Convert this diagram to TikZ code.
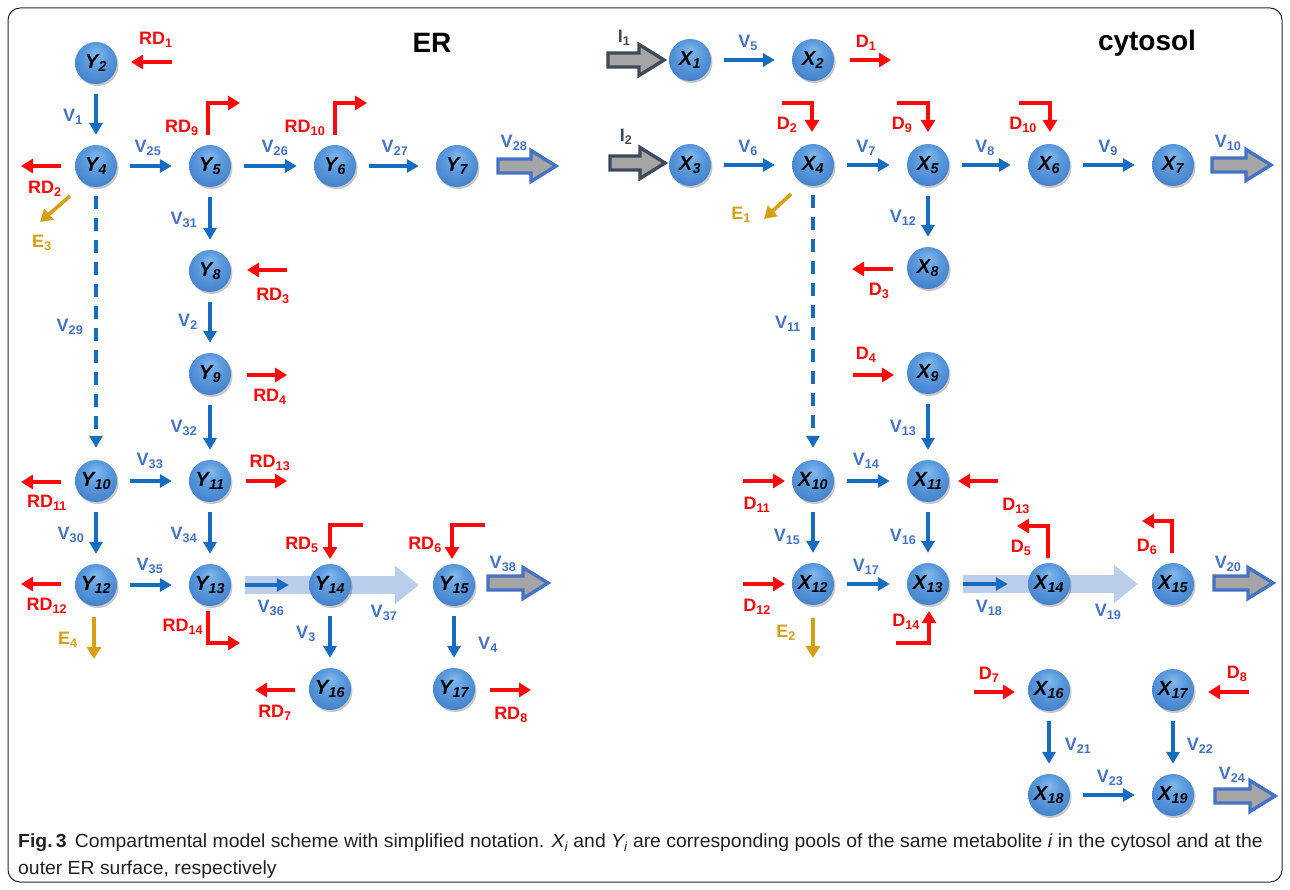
\documentclass[tikz,border=0pt]{standalone}
\usepackage{fontspec}
\setmainfont{Liberation Sans}
\usetikzlibrary{arrows.meta,shadows,calc}
\definecolor{arrblue}{RGB}{22,108,190}
\definecolor{lblblue}{RGB}{68,114,196}
\definecolor{myred}{RGB}{250,10,10}
\definecolor{myyellow}{RGB}{214,160,20}
\definecolor{bandblue}{RGB}{186,206,236}
\definecolor{fatgray}{RGB}{165,165,165}
\definecolor{fatblue}{RGB}{68,114,196}
\definecolor{fatdark}{RGB}{62,74,90}
\definecolor{poolL}{RGB}{130,185,236}
\definecolor{poolM}{RGB}{92,155,222}
\definecolor{poolD}{RGB}{58,120,196}
\definecolor{captxt}{RGB}{35,31,32}
\pgfdeclareradialshading{poolshade}{\pgfpoint{0bp}{12bp}}{color(0bp)=(poolL); color(14bp)=(poolM); color(36bp)=(poolD); color(50bp)=(poolD)}
\pgfdeclarelayer{bg}
\pgfsetlayers{bg,main}
\newcommand{\fatarr}[4]{% x1, x2, y, style
  \draw[#4] (#1,#3-7) -- (#2-25,#3-7) -- (#2-25,#3-15.5) -- (#2,#3) -- (#2-25,#3+15.5) -- (#2-25,#3+7) -- (#1,#3+7) -- cycle;}
\tikzset{
  pool/.style={circle, minimum size=42pt, inner sep=0pt, shading=poolshade,
    drop shadow={shadow xshift=1.5pt, shadow yshift=-2pt, opacity=0.22, fill=black},
    font=\bfseries\itshape\fontsize{20.5}{20.5}\selectfont},
  lbl/.style={font=\bfseries\fontsize{18}{18}\selectfont, inner sep=0pt},
  vl/.style={lbl, text=lblblue},
  rl/.style={lbl, text=myred},
  yl/.style={lbl, text=myyellow},
  gl/.style={lbl, text=fatdark},
  va/.style={draw=arrblue, line width=3.4pt, -{Triangle[length=12pt,width=13pt]}},
  vn/.style={va, shorten <=10pt, shorten >=10pt},
  hn/.style={va, shorten <=13pt, shorten >=17pt},
  dsh/.style={va, dash pattern=on 13pt off 9pt, shorten <=9pt, shorten >=12pt},
  ra/.style={draw=myred, line width=3.6pt, line join=miter, -{Triangle[length=12pt,width=14pt]}},
  ya/.style={draw=myyellow, line width=3.6pt, -{Triangle[length=12pt,width=14pt]}},
  fatb/.style={draw=fatblue, fill=fatgray, line width=3.4pt, line join=miter},
  fatd/.style={draw=fatdark, fill=fatgray, line width=3.4pt, line join=miter},
  band/.style={draw=bandblue, line width=18pt, -{Triangle[length=24pt,width=37pt]}},
}
\begin{document}
\begin{tikzpicture}[x=1pt,y=-1pt]
\useasboundingbox (0,0) rectangle (1290,890);
\draw[line width=1pt, rounded corners=12pt, draw=black!85] (8,8) rectangle (1282,882);

% titles
\node[font=\bfseries\fontsize{28}{28}\selectfont] (ER) at (432,43) {ER};
\node[font=\bfseries\fontsize{28}{28}\selectfont] (cyt) at (1147,43) {cytosol};

% ER pools
\node[pool] (Y2) at (96,63) {Y\textsubscript{2}};
\node[pool] (Y4) at (96,166) {Y\textsubscript{4}};
\node[pool] (Y5) at (210,166) {Y\textsubscript{5}};
\node[pool] (Y6) at (335,166) {Y\textsubscript{6}};
\node[pool] (Y7) at (457,166) {Y\textsubscript{7}};
\node[pool] (Y8) at (210,271) {Y\textsubscript{8}};
\node[pool] (Y9) at (210,374) {Y\textsubscript{9}};
\node[pool] (Y10) at (96,481) {Y\textsubscript{10}};
\node[pool] (Y11) at (210,481) {Y\textsubscript{11}};
\node[pool] (Y12) at (96,585) {Y\textsubscript{12}};
\node[pool] (Y13) at (210,585) {Y\textsubscript{13}};
\node[pool] (Y14) at (330,585) {Y\textsubscript{14}};
\node[pool] (Y15) at (454,585) {Y\textsubscript{15}};
\node[pool] (Y16) at (330,689) {Y\textsubscript{16}};
\node[pool] (Y17) at (454,689) {Y\textsubscript{17}};

% cytosol pools
\node[pool] (X1) at (690,60) {X\textsubscript{1}};
\node[pool] (X2) at (813,60) {X\textsubscript{2}};
\node[pool] (X3) at (690,165) {X\textsubscript{3}};
\node[pool] (X4) at (813,165) {X\textsubscript{4}};
\node[pool] (X5) at (928,165) {X\textsubscript{5}};
\node[pool] (X6) at (1049,165) {X\textsubscript{6}};
\node[pool] (X7) at (1173,165) {X\textsubscript{7}};
\node[pool] (X8) at (928,268) {X\textsubscript{8}};
\node[pool] (X9) at (928,373) {X\textsubscript{9}};
\node[pool] (X10) at (813,481) {X\textsubscript{10}};
\node[pool] (X11) at (928,481) {X\textsubscript{11}};
\node[pool] (X12) at (813,584) {X\textsubscript{12}};
\node[pool] (X13) at (928,584) {X\textsubscript{13}};
\node[pool] (X14) at (1049,584) {X\textsubscript{14}};
\node[pool] (X15) at (1173,584) {X\textsubscript{15}};
\node[pool] (X16) at (1049,690) {X\textsubscript{16}};
\node[pool] (X17) at (1173,690) {X\textsubscript{17}};
\node[pool] (X18) at (1049,795) {X\textsubscript{18}};
\node[pool] (X19) at (1173,795) {X\textsubscript{19}};

% wide bands (background)
\begin{pgfonlayer}{bg}
\draw[band, shorten <=14pt, shorten >=14pt] (Y13) -- (Y15);
\draw[band, shorten <=14pt, shorten >=14pt] (X13) -- (X15);
\end{pgfonlayer}

% ===== ER connectors =====
\draw[vn] (Y2) -- (Y4);
\draw[hn] (Y4) -- (Y5);
\draw[hn] (Y5) -- (Y6);
\draw[hn] (Y6) -- (Y7);
\draw[vn] (Y5) -- (Y8);
\draw[vn] (Y8) -- (Y9);
\draw[vn] (Y9) -- (Y11);
\draw[dsh] (Y4) -- (Y10);
\draw[hn] (Y10) -- (Y11);
\draw[vn] (Y10) -- (Y12);
\draw[vn] (Y11) -- (Y13);
\draw[hn] (Y12) -- (Y13);
\draw[va, shorten <=14pt, shorten >=20pt] (Y13) -- (Y14);
\draw[vn] (Y14) -- (Y16);
\draw[vn] (Y15) -- (Y17);

\node[vl] (lV1) at (73,117) {V\textsubscript{1}};
\node[vl] (lV25) at (148,148) {V\textsubscript{25}};
\node[vl] (lV26) at (275,148) {V\textsubscript{26}};
\node[vl] (lV27) at (395,148) {V\textsubscript{27}};
\node[vl] (lV28) at (514,143) {V\textsubscript{28}};
\node[vl] (lV31) at (184,220) {V\textsubscript{31}};
\node[vl] (lV2) at (188,322) {V\textsubscript{2}};
\node[vl] (lV32) at (184,428) {V\textsubscript{32}};
\node[vl] (lV29) at (70,327) {V\textsubscript{29}};
\node[vl] (lV33) at (150,461) {V\textsubscript{33}};
\node[vl] (lV30) at (71,535) {V\textsubscript{30}};
\node[vl] (lV34) at (184,535) {V\textsubscript{34}};
\node[vl] (lV35) at (150,566) {V\textsubscript{35}};
\node[vl] (lV36) at (271,608) {V\textsubscript{36}};
\node[vl] (lV37) at (384,613) {V\textsubscript{37}};
\node[vl] (lV38) at (503,564) {V\textsubscript{38}};
\node[vl] (lV3) at (306,634) {V\textsubscript{3}};
\node[vl] (lV4) at (488,645) {V\textsubscript{4}};

% ER free arrows
\coordinate (a1) at (172,62); \coordinate (b1) at (131,62);
\draw[ra] (a1) -- (b1);
\node[rl] (lRD1) at (156,40) {RD\textsubscript{1}};
\coordinate (a2) at (61,166); \coordinate (b2) at (21,166);
\draw[ra] (a2) -- (b2);
\node[rl] (lRD2) at (45,189) {RD\textsubscript{2}};
\coordinate (a3) at (70,196); \coordinate (b3) at (40,222);
\draw[ya] (a3) -- (b3);
\node[yl] (lE3) at (42,243) {E\textsubscript{3}};
\coordinate (a9) at (208,135); \coordinate (b9) at (240,103);
\draw[ra] (a9) |- (b9);
\node[rl] (lRD9) at (182,128) {RD\textsubscript{9}};
\coordinate (a10) at (335,135); \coordinate (b10) at (367,103);
\draw[ra] (a10) |- (b10);
\node[rl] (lRD10) at (305,128) {RD\textsubscript{10}};
\fatarr{498}{556}{166}{fatb}
\coordinate (a3r) at (287,270); \coordinate (b3r) at (247,270);
\draw[ra] (a3r) -- (b3r);
\node[rl] (lRD3) at (273,296) {RD\textsubscript{3}};
\coordinate (a4) at (247,375); \coordinate (b4) at (287,375);
\draw[ra] (a4) -- (b4);
\node[rl] (lRD4) at (270,397) {RD\textsubscript{4}};
\coordinate (a11) at (61,482); \coordinate (b11) at (21,482);
\draw[ra] (a11) -- (b11);
\node[rl] (lRD11) at (47,503) {RD\textsubscript{11}};
\coordinate (a13) at (246,481); \coordinate (b13) at (287,481);
\draw[ra] (a13) -- (b13);
\node[rl] (lRD13) at (270,463) {RD\textsubscript{13}};
\coordinate (a12) at (61,584); \coordinate (b12) at (21,584);
\draw[ra] (a12) -- (b12);
\node[rl] (lRD12) at (47,606) {RD\textsubscript{12}};
\coordinate (ae4) at (94,617); \coordinate (be4) at (94,659);
\draw[ya] (ae4) -- (be4);
\node[yl] (lE4) at (68,640) {E\textsubscript{4}};
\coordinate (a14) at (208,611); \coordinate (b14) at (240,643);
\draw[ra] (a14) |- (b14);
\node[rl] (lRD14) at (183,627) {RD\textsubscript{14}};
\coordinate (a5) at (363,525); \coordinate (b5) at (330,559);
\draw[ra] (a5) -| (b5);
\node[rl] (lRD5) at (302,545) {RD\textsubscript{5}};
\coordinate (a6) at (485,525); \coordinate (b6) at (452,559);
\draw[ra] (a6) -| (b6);
\node[rl] (lRD6) at (425,545) {RD\textsubscript{6}};
\fatarr{488}{548}{583}{fatb}
\coordinate (a7) at (295,690); \coordinate (b7) at (255,690);
\draw[ra] (a7) -- (b7);
\node[rl] (lRD7) at (275,713) {RD\textsubscript{7}};
\coordinate (a8) at (490,690); \coordinate (b8) at (531,690);
\draw[ra] (a8) -- (b8);
\node[rl] (lRD8) at (511,715) {RD\textsubscript{8}};

% ===== cytosol connectors =====
\draw[hn] (X1) -- (X2);
\draw[hn] (X3) -- (X4);
\draw[hn] (X4) -- (X5);
\draw[hn] (X5) -- (X6);
\draw[hn] (X6) -- (X7);
\draw[vn] (X5) -- (X8);
\draw[dsh] (X4) -- (X10);
\draw[vn] (X9) -- (X11);
\draw[hn] (X10) -- (X11);
\draw[vn] (X10) -- (X12);
\draw[vn] (X11) -- (X13);
\draw[hn] (X12) -- (X13);
\draw[va, shorten <=14pt, shorten >=20pt] (X13) -- (X14);
\draw[vn] (X16) -- (X18);
\draw[vn] (X17) -- (X19);
\draw[hn] (X18) -- (X19);

\node[vl] (lV5) at (748,43) {V\textsubscript{5}};
\node[vl] (lV6) at (748,148) {V\textsubscript{6}};
\node[vl] (lV7) at (866,148) {V\textsubscript{7}};
\node[vl] (lV8) at (985,148) {V\textsubscript{8}};
\node[vl] (lV9) at (1108,148) {V\textsubscript{9}};
\node[vl] (lV10) at (1228,143) {V\textsubscript{10}};
\node[vl] (lV11) at (788,324) {V\textsubscript{11}};
\node[vl] (lV12) at (903,218) {V\textsubscript{12}};
\node[vl] (lV13) at (903,428) {V\textsubscript{13}};
\node[vl] (lV14) at (866,461) {V\textsubscript{14}};
\node[vl] (lV15) at (787,537) {V\textsubscript{15}};
\node[vl] (lV16) at (903,537) {V\textsubscript{16}};
\node[vl] (lV17) at (866,567) {V\textsubscript{17}};
\node[vl] (lV18) at (989,608) {V\textsubscript{18}};
\node[vl] (lV19) at (1108,612) {V\textsubscript{19}};
\node[vl] (lV20) at (1228,564) {V\textsubscript{20}};
\node[vl] (lV21) at (1078,746) {V\textsubscript{21}};
\node[vl] (lV22) at (1200,746) {V\textsubscript{22}};
\node[vl] (lV23) at (1110,778) {V\textsubscript{23}};
\node[vl] (lV24) at (1232,775) {V\textsubscript{24}};

% cytosol free arrows
\fatarr{608}{664}{60}{fatd}
\node[gl] (lI1) at (624,38) {I\textsubscript{1}};
\fatarr{610}{665}{163}{fatd}
\node[gl] (lI2) at (626,137) {I\textsubscript{2}};
\coordinate (c1) at (850,60); \coordinate (d1) at (891,60);
\draw[ra] (c1) -- (d1);
\node[rl] (lD1) at (866,43) {D\textsubscript{1}};
\coordinate (c2) at (782,103); \coordinate (d2) at (812,132);
\draw[ra] (c2) -| (d2);
\node[rl] (lD2) at (787,125) {D\textsubscript{2}};
\coordinate (c9) at (897,103); \coordinate (d9) at (928,132);
\draw[ra] (c9) -| (d9);
\node[rl] (lD9) at (902,125) {D\textsubscript{9}};
\coordinate (c10) at (1019,103); \coordinate (d10) at (1050,132);
\draw[ra] (c10) -| (d10);
\node[rl] (lD10) at (1023,125) {D\textsubscript{10}};
\fatarr{1212}{1271}{165}{fatb}
\coordinate (ce1) at (791,194); \coordinate (de1) at (764,219);
\draw[ya] (ce1) -- (de1);
\node[yl] (lE1) at (741,215) {E\textsubscript{1}};
\coordinate (c3) at (893,269); \coordinate (d3) at (852,269);
\draw[ra] (c3) -- (d3);
\node[rl] (lD3) at (879,291) {D\textsubscript{3}};
\coordinate (c4) at (853,375); \coordinate (d4) at (894,375);
\draw[ra] (c4) -- (d4);
\node[rl] (lD4) at (866,355) {D\textsubscript{4}};
\coordinate (c11) at (743,481); \coordinate (d11) at (785,481);
\draw[ra] (c11) -- (d11);
\node[rl] (lD11) at (757,505) {D\textsubscript{11}};
\coordinate (c13) at (998,481); \coordinate (d13) at (958,481);
\draw[ra] (c13) -- (d13);
\node[rl] (lD13) at (1016,506) {D\textsubscript{13}};
\coordinate (c12) at (743,584); \coordinate (d12) at (785,584);
\draw[ra] (c12) -- (d12);
\node[rl] (lD12) at (757,607) {D\textsubscript{12}};
\coordinate (ce2) at (813,618); \coordinate (de2) at (813,658);
\draw[ya] (ce2) -- (de2);
\node[yl] (lE2) at (786,633) {E\textsubscript{2}};
\coordinate (c14) at (896,643); \coordinate (d14) at (929,611);
\draw[ra] (c14) -| (d14);
\node[rl] (lD14) at (906,622) {D\textsubscript{14}};
\coordinate (c5) at (1048,558); \coordinate (d5) at (1017,526);
\draw[ra] (c5) |- (d5);
\node[rl] (lD5) at (1021,548) {D\textsubscript{5}};
\coordinate (c6) at (1172,553); \coordinate (d6) at (1142,521);
\draw[ra] (c6) |- (d6);
\node[rl] (lD6) at (1147,547) {D\textsubscript{6}};
\fatarr{1214}{1273}{583}{fatb}
\coordinate (c7) at (974,692); \coordinate (d7) at (1015,692);
\draw[ra] (c7) -- (d7);
\node[rl] (lD7) at (989,675) {D\textsubscript{7}};
\coordinate (c8) at (1249,692); \coordinate (d8) at (1208,692);
\draw[ra] (c8) -- (d8);
\node[rl] (lD8) at (1237,674) {D\textsubscript{8}};
\fatarr{1215}{1275}{796}{fatb}

% caption
\node[anchor=west, inner sep=0pt, text=captxt] (cap1) at (18,843) {\scalebox{1.02}[1]{\fontsize{19}{19}\selectfont\textbf{Fig.\,3}\hspace{8pt}Compartmental model scheme with simplified notation. \textit{X\textsubscript{i}} and \textit{Y\textsubscript{i}} are corresponding pools of the same metabolite \textit{i} in the cytosol and at the}};
\node[anchor=west, inner sep=0pt, text=captxt] (cap2) at (18,870) {\scalebox{1.02}[1]{\fontsize{19}{19}\selectfont outer ER surface, respectively}};
\end{tikzpicture}
\end{document}
